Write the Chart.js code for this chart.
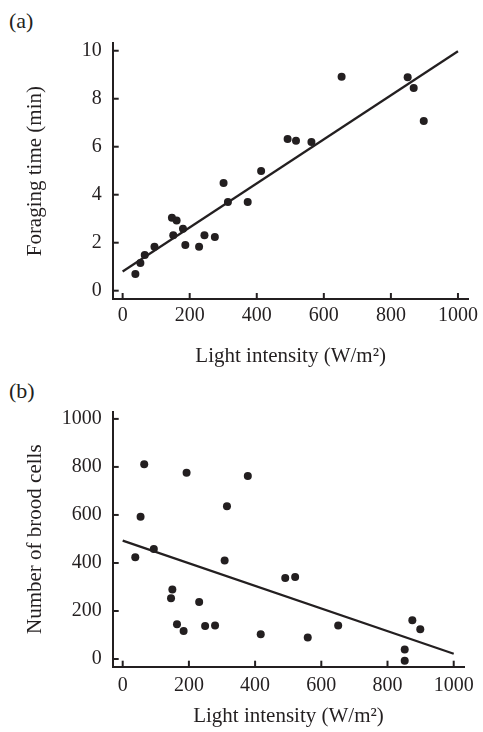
<!DOCTYPE html>
<html>
<head>
<meta charset="utf-8">
<script src="https://cdn.jsdelivr.net/npm/chart.js@4/dist/chart.umd.min.js"></script>
<style>
  html, body { margin: 0; padding: 0; background: #ffffff; }
  body { width: 483px; height: 732px; position: relative; overflow: hidden; }
  .panel { position: absolute; left: 0; width: 483px; }
  .tag { position: absolute; left: 9px; font-family: "Liberation Serif", "Times New Roman", serif; font-size: 22px; line-height: 22px; color: #231f20; }
</style>
</head>
<body>
<div class="tag" style="top:10px">(a)</div>
<div class="tag" style="top:380px">(b)</div>
<div class="panel" style="top:0; height:370px"><canvas id="chartA" width="483" height="370"></canvas></div>
<div class="panel" style="top:370px; height:362px"><canvas id="chartB" width="483" height="362"></canvas></div>
<script>
// ---- data ----
const lightA = [38, 53, 66, 95, 147, 161, 151, 180, 187, 228, 244, 275, 301, 314, 373, 413, 492, 517, 563, 653, 850, 868, 898];
const forageA = [0.70, 1.15, 1.49, 1.83, 3.04, 2.93, 2.31, 2.58, 1.90, 1.83, 2.31, 2.24, 4.49, 3.70, 3.70, 4.99, 6.32, 6.25, 6.20, 8.92, 8.89, 8.45, 7.07];

const lightB = [38, 54, 65, 94, 150, 146, 164, 184, 193, 231, 249, 279, 308, 315, 378, 417, 491, 521, 559, 651, 852, 852, 875, 899];
const broodB = [424, 592, 811, 458, 290, 253, 145, 117, 776, 237, 137, 140, 410, 636, 762, 103, 337, 342, 90, 140, 40, -7, 161, 124];

const fitX = [0, 1000];
const fitA = [0.8, 9.98];
const fitB = [493, 22];

const xTicks = [0, 200, 400, 600, 800, 1000];
const xTickLabels = ['0', '200', '400', '600', '800', '1000'];
const yTicksA = [0, 2, 4, 6, 8, 10];
const yTickLabelsA = ['0', '2', '4', '6', '8', '10'];
const yTicksB = [0, 200, 400, 600, 800, 1000];
const yTickLabelsB = ['0', '200', '400', '600', '800', '1000'];

const xTitle = 'Light intensity (W/m\u00B2)';
const yTitleA = 'Foraging time (min)';
const yTitleB = 'Number of brood cells';

// ---- styling ----
const INK = '#231f20';
const FONT = '"Liberation Serif", "Times New Roman", serif';

const inwardTicks = {
  id: 'inwardTicks',
  afterDraw(chart) {
    const { ctx, chartArea, scales } = chart;
    const xs = scales.x, ys = scales.y;
    ctx.save();
    ctx.strokeStyle = INK;
    ctx.lineWidth = 2;
    xs.ticks.forEach(t => {
      const px = xs.getPixelForValue(t.value);
      ctx.beginPath();
      ctx.moveTo(px, chartArea.bottom);
      ctx.lineTo(px, chartArea.bottom - 6);
      ctx.stroke();
    });
    ys.ticks.forEach(t => {
      const py = ys.getPixelForValue(t.value);
      ctx.beginPath();
      ctx.moveTo(chartArea.left, py);
      ctx.lineTo(chartArea.left + 6, py);
      ctx.stroke();
    });
    ctx.restore();
  }
};

function makeChart(id, cfg) {
  const pts = cfg.xs.map((x, i) => ({ x: x, y: cfg.ys[i] }));
  const fit = fitX.map((x, i) => ({ x: x, y: cfg.fit[i] }));
  return new Chart(document.getElementById(id), {
    type: 'scatter',
    data: {
      datasets: [
        {
          data: fit,
          showLine: true,
          borderColor: INK,
          borderWidth: 2.2,
          pointRadius: 0,
          fill: false
        },
        {
          data: pts,
          pointRadius: 4,
          pointBackgroundColor: INK,
          pointBorderColor: INK,
          pointBorderWidth: 0,
          showLine: false
        }
      ]
    },
    options: {
      responsive: false,
      animation: false,
      devicePixelRatio: 1,
      layout: { padding: { left: 0, top: cfg.padTop, right: cfg.padRight, bottom: 0 } },
      plugins: { legend: { display: false }, tooltip: { enabled: false } },
      scales: {
        x: {
          type: 'linear',
          min: cfg.xMin, max: cfg.xMax,
          afterBuildTicks: s => { s.ticks = xTicks.map(v => ({ value: v })); },
          afterFit: s => { s.height = cfg.xHeight; },
          grid: { display: false, drawTicks: false, tickLength: 0 },
          border: { display: true, color: INK, width: 2 },
          ticks: {
            padding: cfg.xTickPad,
            color: INK,
            font: { family: FONT, size: 20 },
            maxRotation: 0,
            autoSkip: false,
            callback: (v, i) => xTickLabels[i]
          },
          title: {
            display: true,
            text: xTitle,
            color: INK,
            font: { family: FONT, size: 21 },
            padding: { top: 0, bottom: cfg.xTitlePad }
          }
        },
        y: {
          type: 'linear',
          min: cfg.yMin, max: cfg.yMax,
          afterBuildTicks: s => { s.ticks = cfg.yTicks.map(v => ({ value: v })); },
          afterFit: s => { s.width = 112.7; },
          grid: { display: false, drawTicks: false, tickLength: 0 },
          border: { display: true, color: INK, width: 2 },
          ticks: {
            padding: 11,
            color: INK,
            font: { family: FONT, size: 20 },
            autoSkip: false,
            callback: (v, i) => cfg.yLabels[i]
          },
          title: {
            display: true,
            text: cfg.yTitle,
            color: INK,
            font: { family: FONT, size: 21 },
            padding: { top: 23, bottom: 0 }
          }
        }
      }
    },
    plugins: [inwardTicks]
  });
}

makeChart('chartA', {
  xs: lightA, ys: forageA, fit: fitA,
  xMin: -29.6, xMax: 1031.6, yMin: -0.346, yMax: 10.31,
  yTicks: yTicksA, yLabels: yTickLabelsA, yTitle: yTitleA,
  padTop: 43.3, padRight: 11.3, xHeight: 71, xTickPad: 4.7, xTitlePad: 1
});

makeChart('chartB', {
  xs: lightB, ys: broodB, fit: fitB,
  xMin: -30.2, xMax: 1032, yMin: -32, yMax: 1030,
  yTicks: yTicksB, yLabels: yTickLabelsB, yTitle: yTitleB,
  padTop: 41.7, padRight: 18.7, xHeight: 65.3, xTickPad: 7.1, xTitlePad: 3
});
</script>
</body>
</html>
